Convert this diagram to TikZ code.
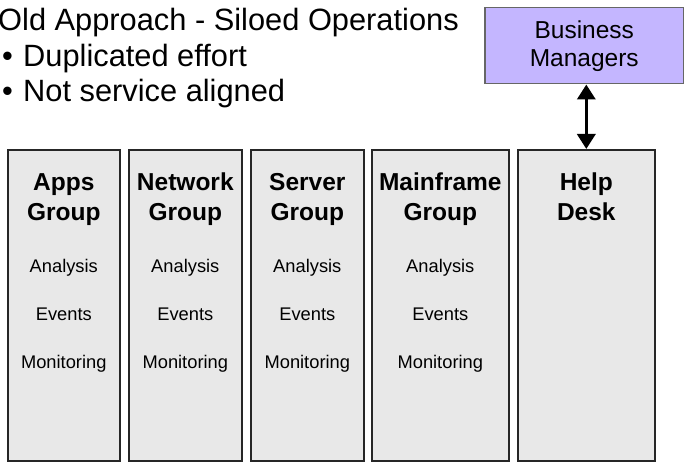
\documentclass[tikz,border=0pt]{standalone}
\usepackage{fontspec}
\setmainfont{Liberation Sans}
\usetikzlibrary{arrows.meta,positioning}
\definecolor{silogray}{RGB}{232,232,232}
\definecolor{mgrpurple}{RGB}{196,182,255}

\begin{document}
\begin{tikzpicture}[x=1pt,y=-1pt,
    silo/.style={draw=black!85,line width=1.6pt,fill=silogray,minimum height=311pt,anchor=north west,inner sep=0pt},
    head/.style={font=\fontsize{24.5}{30}\selectfont\bfseries,align=center,anchor=north,inner sep=0pt},
    task/.style={font=\fontsize{18.3}{20}\selectfont,anchor=base},
    bigtext/.style={font=\fontsize{30.8}{35}\selectfont,anchor=base west,inner sep=0pt}]
    \useasboundingbox (0,0) rectangle (684,462);
    % heading and bullets
    \node[bigtext] (title) at (-2,31) {Old Approach - Siloed Operations};
    \node[bigtext] (dot1) at (2,67) {•};
    \node[bigtext] (pt1) at (23,67) {Duplicated effort};
    \node[bigtext] (dot2) at (2,102) {•};
    \node[bigtext] (pt2) at (23,102) {Not service aligned};
    % the silos
    \node[silo,minimum width=112pt] (apps) at (7,149) {};
    \node[silo,minimum width=113pt] (net) at (128,149) {};
    \node[silo,minimum width=113pt] (srv) at (250,149) {};
    \node[silo,minimum width=137pt] (mf) at (371,149) {};
    \node[silo,minimum width=137pt] (help) at (517,149) {};
    \node[head] (appsh) at ([yshift=-24pt]apps.north) {Apps\\Group};
    \node[head] (neth) at ([yshift=-24pt]net.north) {Network\\Group};
    \node[head] (srvh) at ([yshift=-24pt]srv.north) {Server\\Group};
    \node[head] (mfh) at ([yshift=-24pt]mf.north) {Mainframe\\Group};
    \node[head] (helph) at ([yshift=-24pt]help.north) {Help\\Desk};
    \foreach \g/\n in {apps/1,net/2,srv/3,mf/4} {
        \node[task] (an\n) at (\g.north |- 0,272) {Analysis};
        \node[task] (ev\n) at (\g.north |- 0,320) {Events};
        \node[task] (mo\n) at (\g.north |- 0,368) {Monitoring};
    }
    % business managers
    \node[draw=black!60,line width=1.5pt,fill=mgrpurple,minimum width=199pt,minimum height=76pt,
        anchor=north west,align=center,font=\fontsize{24.5}{28}\selectfont] (bm) at (484,7) {Business\\Managers};
    \draw[line width=3.5pt,{Triangle[width=18pt,length=15pt]}-{Triangle[width=18pt,length=15pt]}]
        (help.north |- bm.south) -- (help.north);
\end{tikzpicture}
\end{document}
